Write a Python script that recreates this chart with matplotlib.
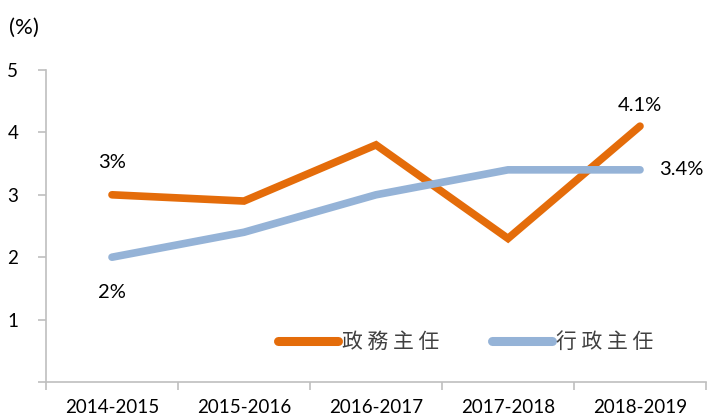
import matplotlib
matplotlib.use('Agg')
import matplotlib.pyplot as plt
import numpy as np

# data
years = ['2014-2015', '2015-2016', '2016-2017', '2017-2018', '2018-2019']
political = [3.0, 2.9, 3.8, 2.3, 4.1]   # 政務主任
executive = [2.0, 2.4, 3.0, 3.4, 3.4]   # 行政主任
series_names = ['政 務 主 任', '行 政 主 任']

ORANGE = '#E46C0A'
BLUE = '#95B3D7'
GRAY = '#BFBFBF'

plt.rcParams['font.family'] = ['Lato', 'DejaVu Sans']

fig = plt.figure(figsize=(7.09, 4.18), dpi=100)
ax = fig.add_axes([46 / 709, 36 / 418, 660 / 709, 312 / 418])

x = np.arange(len(years))
ax.plot(x, political, color=ORANGE, lw=5.5, solid_capstyle='round',
        solid_joinstyle='miter', label=series_names[0])
ax.plot(x, executive, color=BLUE, lw=5.5, solid_capstyle='round',
        solid_joinstyle='miter', label=series_names[1])

ax.set_xlim(-0.5, len(years) - 0.5)
ax.set_ylim(0, 5)

# category tick marks sit between the categories
ax.set_xticks(np.arange(len(years) + 1) - 0.5)
ax.set_xticklabels([])
ax.set_xticks(x, minor=True)
ax.set_xticklabels(years, minor=True, fontsize=13.5, color='black')
ax.tick_params(axis='x', which='minor', length=0, pad=12)
ax.tick_params(axis='x', which='major', length=6, color=GRAY, width=1.2)

ax.set_yticks([0, 1, 2, 3, 4, 5])
ax.set_yticklabels(['', '1', '2', '3', '4', '5'], fontsize=13.5)
ax.tick_params(axis='y', length=6, color=GRAY, width=1.2, pad=14)

for s in ['top', 'right']:
    ax.spines[s].set_visible(False)
for s in ['left', 'bottom']:
    ax.spines[s].set_color(GRAY)
    ax.spines[s].set_linewidth(1.2)

# data labels
fs = 14.5
ax.annotate(f'{political[0]:g}%', (x[0], political[0]), xytext=(0, 17),
            textcoords='offset points', ha='center', va='bottom', fontsize=fs)
ax.annotate(f'{executive[0]:g}%', (x[0], executive[0]), xytext=(0, -19),
            textcoords='offset points', ha='center', va='top', fontsize=fs)
ax.annotate(f'{political[-1]:g}%', (x[-1], political[-1]), xytext=(0, 9),
            textcoords='offset points', ha='center', va='bottom', fontsize=fs)
ax.annotate(f'{executive[-1]:g}%', (x[-1], executive[-1]), xytext=(14, 0),
            textcoords='offset points', ha='left', va='center', fontsize=fs)

fig.text(9 / 709, 1 - 28 / 418, '(%)', fontsize=16, va='center', ha='left')

leg = ax.legend(loc='center left', bbox_to_anchor=(213 / 660, 40 / 312), ncol=2,
                frameon=False, handlelength=2.9, handletextpad=0.2,
                columnspacing=2.5,
                prop={'family': ['Noto Sans CJK TC'], 'size': 15})
for t in leg.get_texts():
    t.set_color('#404040')
for h in leg.get_lines():
    h.set_linewidth(6.5)

fig.savefig('out.png', dpi=100)
